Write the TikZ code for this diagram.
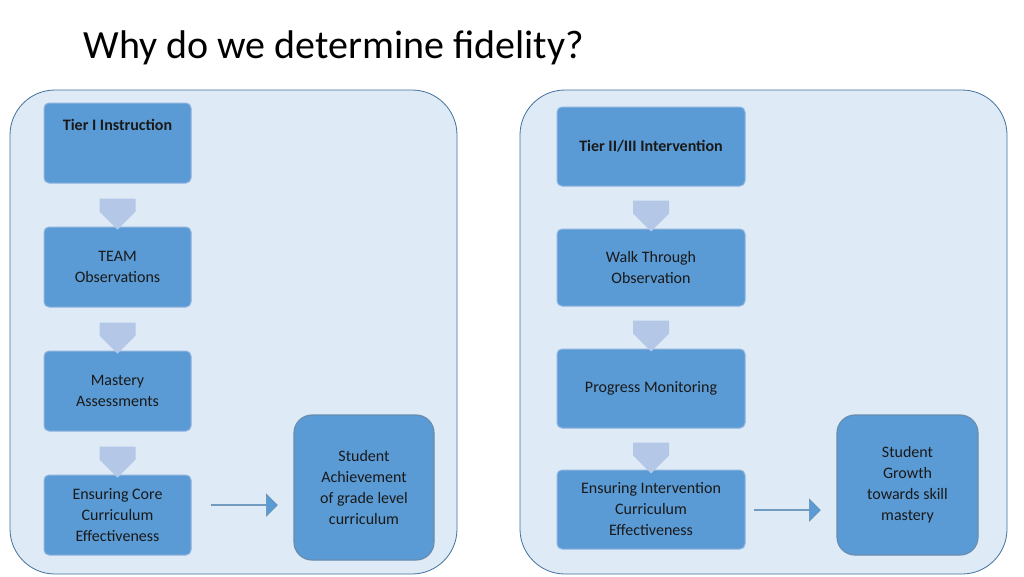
\documentclass[tikz,border=0pt]{standalone}
\usepackage{fontspec}
\setmainfont{Carlito}
\usetikzlibrary{shapes.arrows}
\definecolor{boxf}{HTML}{5B9BD5}
\definecolor{boxd}{HTML}{8FB4DE}
\definecolor{panf}{HTML}{DEEAF6}
\definecolor{pand}{HTML}{41719C}
\definecolor{darr}{HTML}{B4C7E7}
\tikzset{
 panel/.style={draw=pand,fill=panf,line width=0.8pt,rounded corners=45pt},
 box/.style={draw=boxd,fill=boxf,line width=1pt,rounded corners=5pt,align=center,font=\fontsize{16}{21}\selectfont,text=black!90,inner sep=0pt},
 dnarr/.style={single arrow,draw=none,fill=darr,shape border rotate=270,minimum width=36pt,minimum height=31pt,single arrow head extend=0pt,inner sep=0pt,single arrow tip angle=90},
 rtarr/.style={single arrow,draw=pand!80,line width=0.6pt,fill=boxf,minimum width=22pt,minimum height=66pt,inner sep=0pt,single arrow head extend=5pt}
}
\begin{document}
\begin{tikzpicture}[x=1pt,y=-1pt]
\useasboundingbox (0,0) rectangle (1024,576);
\node[anchor=west,font=\fontsize{40}{44}\selectfont] (title) at (80,48) {Why do we determine fidelity?};
\draw[panel] (10,90) rectangle (457,574);
\draw[panel] (520,90) rectangle (1007,574);
% left
\node[box,minimum width=147pt,minimum height=80pt,font=\bfseries\fontsize{16}{21}\selectfont] (l1) at (117.5,143) {Tier I Instruction\\[16pt]};
\node[box,minimum width=147pt,minimum height=80pt] (l2) at (117.5,267) {TEAM\\Observations};
\node[box,minimum width=147pt,minimum height=80pt] (l3) at (117.5,391) {Mastery\\Assessments};
\node[box,minimum width=147pt,minimum height=80pt] (l4) at (117.5,515) {Ensuring Core\\Curriculum\\Effectiveness};
\node[box,minimum width=140pt,minimum height=145pt,rounded corners=18pt,line width=1.2pt,draw=pand!80] (l5) at (364,487.5) {Student\\Achievement\\of grade level\\curriculum};
\node[dnarr] (a1) at (117.5,205) {};
\node[dnarr] (a2) at (117.5,329) {};
\node[dnarr] (a3) at (117.5,453) {};
\node[rtarr] (a4) at (244,505) {};
% right
\node[box,minimum width=188pt,minimum height=79pt,font=\bfseries\fontsize{16}{21}\selectfont] (r1) at (651,146.5) {Tier II/III Intervention};
\node[box,minimum width=188pt,minimum height=77pt] (r2) at (651,267.5) {Walk Through\\Observation};
\node[box,minimum width=188pt,minimum height=79pt] (r3) at (651,388.5) {Progress Monitoring};
\node[box,minimum width=188pt,minimum height=79pt] (r4) at (651,509.5) {Ensuring Intervention\\Curriculum\\Effectiveness};
\node[box,minimum width=141pt,minimum height=140pt,rounded corners=18pt,line width=1.2pt,draw=pand!80] (r5) at (907.5,485) {Student\\Growth\\towards skill\\mastery};
\node[dnarr] (b1) at (651,207) {};
\node[dnarr] (b2) at (651,327) {};
\node[dnarr] (b3) at (651,449) {};
\node[rtarr] (b4) at (787,510) {};
\end{tikzpicture}
\end{document}
